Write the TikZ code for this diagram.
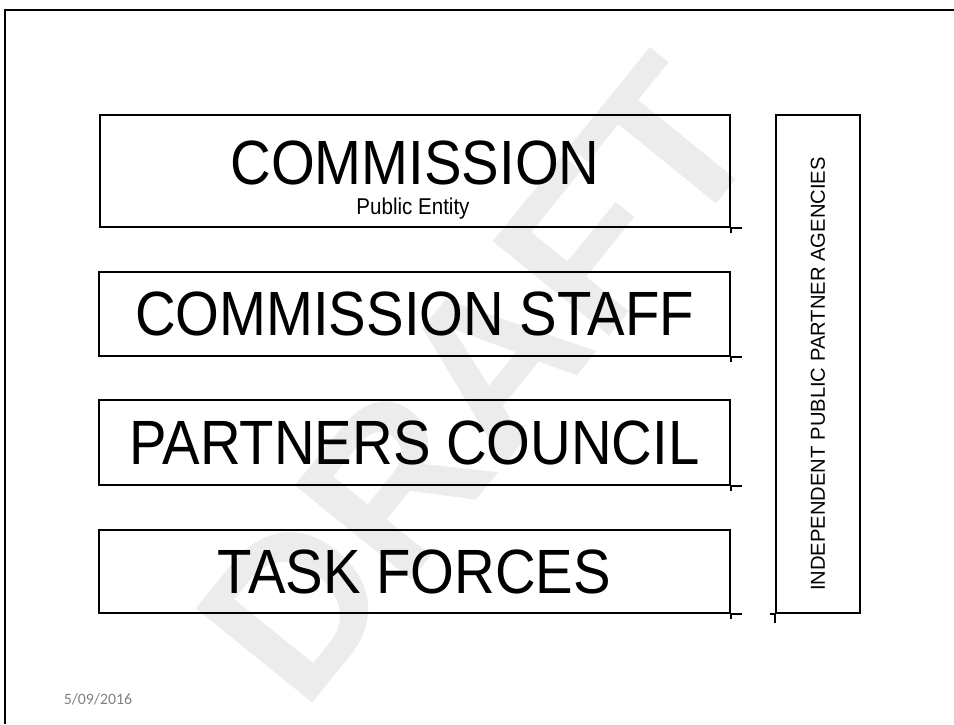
\documentclass[tikz,border=0pt]{standalone}
\usepackage{fontspec}
\setmainfont{Liberation Sans}
\newfontfamily\handfont[FakeStretch=0.9]{Liberation Sans}
\newfontfamily\datefont{Carlito}
\definecolor{dategray}{RGB}{128,128,128}
\definecolor{wmgray}{RGB}{236,236,236}
\tikzset{
  layer/.style={draw, line width=1.1pt, minimum width=12.64cm, inner sep=0pt,
    font=\handfont\fontsize{35.6}{40}\selectfont},
  tick/.style={line width=1.1pt}
}

\begin{document}
\begin{tikzpicture}[x=0.02cm, y=-0.02cm]
\useasboundingbox (0,0) rectangle (954,724);

\node (draft) at (478,380) [rotate=51, text=wmgray, font=\bfseries\fontsize{124}{124}\selectfont] {DRAFT};

\draw [line width=1.5pt] (5,724) -- (5,10) -- (954,10);

\node (comm) at (415,171) [layer, minimum width=12.6cm, minimum height=2.24cm, text depth=9.6pt] {COMMISSION};
\node (entity) at (413,214) [anchor=base, font=\handfont\fontsize{13}{14}\selectfont] {Public Entity};
\node (staff) at (414.5,314) [layer, minimum height=1.68cm] {COMMISSION STAFF};
\node (council) at (414.5,442.5) [layer, minimum height=1.7cm] {PARTNERS COUNCIL};
\node (task) at (414.5,571.5) [layer, minimum height=1.66cm] {TASK FORCES};
\node (agencies) at (818,364) [draw, line width=1.1pt, rotate=90, minimum width=9.96cm, minimum height=1.68cm, inner sep=0pt, font=\fontsize{11.5}{12}\selectfont] {INDEPENDENT PUBLIC PARTNER AGENCIES\hspace*{0.4cm}};

\foreach \b in {comm, staff, council, task} {
  \draw [tick] (\b.south east) -- ++(11,0);
  \draw [tick] (\b.south east) -- ++(0,5);
}
% bottom left corner of the rotated box
\draw [tick] (agencies.north west) -- ++(0,9);
\draw [tick] (agencies.north west) -- ++(-5,0);

\node (date) at (98,699) [text=dategray, font=\datefont\fontsize{9}{10}\selectfont] {5/09/2016};
\end{tikzpicture}
\end{document}
